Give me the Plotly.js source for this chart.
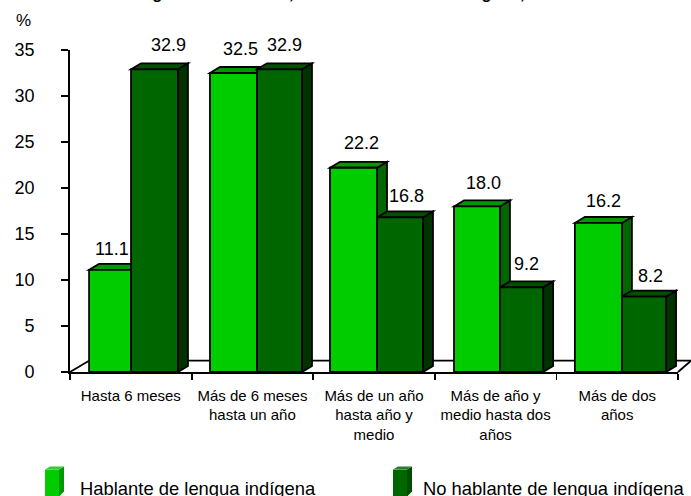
<!DOCTYPE html>
<html>
<head>
<meta charset="utf-8">
<script src="https://cdn.plot.ly/plotly-3.0.1.min.js"></script>
<style>html,body{margin:0;padding:0;background:#fff;overflow:hidden}#chart{width:691px;height:496px}</style>
</head>
<body>
<div id="chart"></div>
<script>
// ---- data ----
const categories = ['Hasta 6 meses','Más de 6 meses<br>hasta un año','Más de un año<br>hasta año y<br>medio','Más de año y<br>medio hasta dos<br>años','Más de dos<br>años'];
const hablante = [11.1, 32.5, 22.2, 18.0, 16.2];
const noHablante = [32.9, 32.9, 16.8, 9.2, 8.2];
const seriesNames = ['Hablante de lengua indígena','No hablante de lengua indígena'];
const yTicks = [0,5,10,15,20,25,30,35];
const titleText = 'Migrantes recientes, condición de habla indígena, 2000';

// ---- geometry (category units / pixel nudges) ----
const leftEdge  = [-.343,-.349,-.362,-.342,-.348];
const midEdge   = [ .002, .038, .025, .036, .039];
const rightEdge = [ .388, .408, .403, .391, .402];
const depthX = 0.082, depthY = 0.65;
const lightLabelShift = [2,7,8,6,5];
const darkLabelShift = [14,5,6,5,6];
const lightLabelRaise = [21,24,25,23,22];
const darkLabelRaise = [24,24,21,23,21];

const L=70,R=13,T=50,B=123.7,W=691,H=496,PW=W-L-R,PH=H-T-B;
const px=x=>(x-L)/PW, py=y=>(H-B-y)/PH;
const FONT='"Liberation Sans", Arial, sans-serif';
const cols={lf:'#00CC00',lt:'#009900',ls:'#006600',df:'#006600',dt:'#005000',ds:'#003300'};
const lineBlack={color:'#000',width:1.8};

function poly(pts){return 'M'+pts.map(p=>p[0]+','+p[1]).join('L')+'Z';}
function faces(x0,x1,v,top,side){
  return [
    {type:'path',xref:'x',yref:'y',layer:'below',path:poly([[x1,0],[x1+depthX,depthY],[x1+depthX,v+depthY],[x1,v]]),fillcolor:side,line:lineBlack},
    {type:'path',xref:'x',yref:'y',layer:'below',path:poly([[x0,v],[x0+depthX,v+depthY],[x1+depthX,v+depthY],[x1,v]]),fillcolor:top,line:lineBlack}
  ];
}
function pxPath(pts){return poly(pts.map(p=>[px(p[0]),py(p[1])]));}
function swatch(x0,front,side,top){
  const y0=470,y1=497,xm=x0+14,dx=5,dy=3;
  return [
    {type:'path',xref:'paper',yref:'paper',path:pxPath([[x0,y0],[xm,y0],[xm,y1],[x0,y1]]),fillcolor:front,line:{width:0}},
    {type:'path',xref:'paper',yref:'paper',path:pxPath([[xm,y0],[xm+dx,y0-dy],[xm+dx,y1-5],[xm,y1]]),fillcolor:side,line:{width:0}},
    {type:'path',xref:'paper',yref:'paper',path:pxPath([[x0,y0],[x0+dx,y0-dy],[xm+dx,y0-dy],[xm,y0]]),fillcolor:top,line:{width:0}}
  ];
}
function floorLine(x0,y0,x1,y1){
  return {type:'line',xref:'paper',yref:'paper',layer:'below',x0:px(x0),y0:py(y0),x1:px(x1),y1:py(y1),line:lineBlack};
}

const shapes=[floorLine(70,372.3,89,361),floorLine(89,361,691,361),floorLine(678,372.3,691,361)];
categories.forEach((c,i)=>{
  shapes.push(...faces(i+leftEdge[i],i+midEdge[i],hablante[i],cols.lt,cols.ls));
  shapes.push(...faces(i+midEdge[i],i+rightEdge[i],noHablante[i],cols.dt,cols.ds));
});
shapes.push(...swatch(45,'#00CC00','#009900','#33CC33'));
shapes.push(...swatch(393,'#006600','#004C00','#267F26'));

const valueLabel=(x,v,shift,raise)=>({x:x,y:v,xref:'x',yref:'y',text:v.toFixed(1),showarrow:false,xanchor:'center',yanchor:'middle',xshift:shift,yshift:raise,font:{family:FONT,size:18,color:'#000'}});
const annotations=[];
categories.forEach((c,i)=>{
  annotations.push(valueLabel(i+(leftEdge[i]+midEdge[i])/2,hablante[i],lightLabelShift[i],lightLabelRaise[i]));
  annotations.push(valueLabel(i+(midEdge[i]+rightEdge[i])/2,noHablante[i],darkLabelShift[i],darkLabelRaise[i]));
});
const pxText=(t,x,y,size,anchor,weight)=>({xref:'paper',yref:'paper',x:px(x),y:py(y),text:weight?'<b>'+t+'</b>':t,showarrow:false,xanchor:anchor,yanchor:'middle',font:{family:FONT,size:size,color:'#000'}});
annotations.push(pxText('%',23,20,17,'center'));
annotations.push(pxText(seriesNames[0],78,488.5,18.4,'left'));
annotations.push(pxText(seriesNames[1],421,488.5,18.4,'left'));
annotations.push(pxText(titleText,350,-7,16.5,'center',true));

const bar=(y,name,color,lo,hi)=>({type:'bar',x:categories,y:y,name:name,
  marker:{color:color,line:{color:'#000',width:1.8}},
  offset:lo,width:hi.map((h,i)=>h-lo[i]),hoverinfo:'name+y'});

Plotly.newPlot('chart',[
  bar(hablante,seriesNames[0],cols.lf,leftEdge,midEdge),
  bar(noHablante,seriesNames[1],cols.df,midEdge,rightEdge)
],{
  width:W,height:H,margin:{l:L,r:R,t:T,b:B,pad:0},
  paper_bgcolor:'#fff',plot_bgcolor:'rgba(0,0,0,0)',
  barmode:'overlay',showlegend:false,
  xaxis:{type:'category',categoryorder:'array',categoryarray:categories,range:[-.5,4.5],tickson:'boundaries',
    ticks:'outside',ticklen:6,tickwidth:1.8,tickcolor:'#000',showline:true,linecolor:'#000',linewidth:1.8,showgrid:false,zeroline:false,
    tickangle:0,ticklabelstandoff:9,tickfont:{family:FONT,size:15,color:'#000'}},
  yaxis:{range:[0,35],tickvals:yTicks,ticktext:yTicks.map(String),ticks:'outside',ticklen:7,tickwidth:1.8,tickcolor:'#000',
    showline:true,linecolor:'#000',linewidth:1.8,showgrid:false,zeroline:false,ticklabelstandoff:23,
    tickfont:{family:FONT,size:18,color:'#000'}},
  shapes:shapes,annotations:annotations,
  font:{family:FONT}
},{displayModeBar:false,staticPlot:true});
</script>
</body>
</html>
